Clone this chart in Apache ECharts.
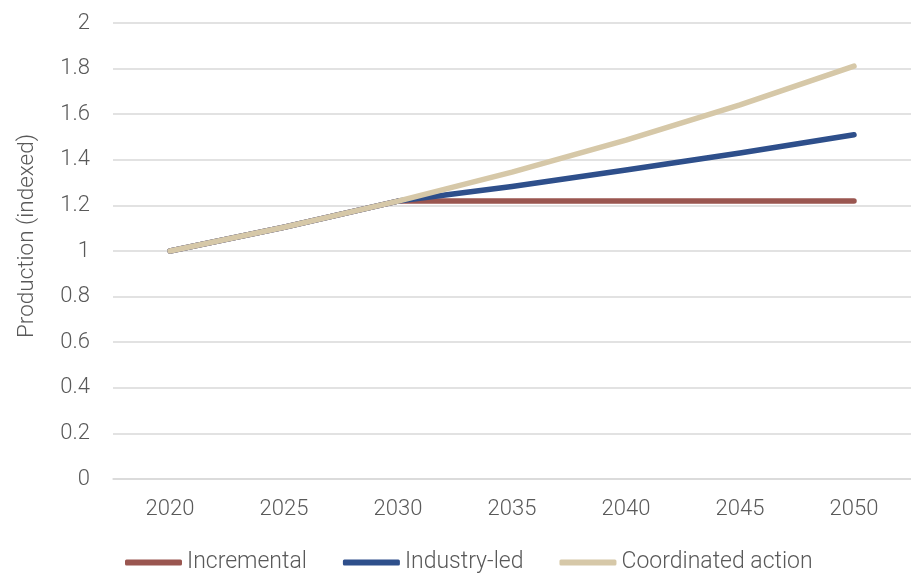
<!DOCTYPE html>
<html><head><meta charset="utf-8">
<script src="https://cdn.jsdelivr.net/npm/echarts@6/dist/echarts.min.js"></script>
<style>html,body{margin:0;padding:0;background:#fff}#c{width:911px;height:573px}</style>
</head><body><div id="c"></div>
<script>
var years = ['2020','2025','2030','2035','2040','2045','2050'];
var incremental = [1.00, 1.104, 1.219, 1.219, 1.219, 1.219, 1.219];
var industryLed = [1.00, 1.104, 1.219, 1.283, 1.355, 1.430, 1.510];
var coordinated = [1.00, 1.104, 1.219, 1.346, 1.486, 1.641, 1.811];
var yTicks = [0, 0.2, 0.4, 0.6, 0.8, 1, 1.2, 1.4, 1.6, 1.8, 2];

var font = 'Roboto, "Liberation Sans", sans-serif';
var chart = echarts.init(document.getElementById('c'));
function ser(name, data, color){
  return {name:name, type:'line', data:data, symbol:'none', smooth:false,
    lineStyle:{width:5.5, color:color, cap:'round', join:'round'}, itemStyle:{color:color}};
}
chart.setOption({
  animation:false,
  grid:{left:113, top:23, width:805, height:456},
  xAxis:{type:'category', data:years, boundaryGap:true,
    axisLine:{show:true, lineStyle:{color:'#d9d9d9', width:1.5}},
    axisTick:{show:false},
    axisLabel:{color:'#595959', fontSize:22, fontFamily:font, fontWeight:300, margin:19}},
  yAxis:{type:'value', min:yTicks[0], max:yTicks[yTicks.length-1], interval:0.2,
    name:'Production (indexed)', nameLocation:'middle', nameGap:74, nameRotate:90,
    nameTextStyle:{color:'#595959', fontSize:22.5, fontFamily:font, fontWeight:300, padding:[0,0,0,30]},
    axisLine:{show:false}, axisTick:{show:false},
    splitLine:{lineStyle:{color:'#d9d9d9', width:1.5}},
    axisLabel:{color:'#595959', fontSize:22, fontFamily:font, fontWeight:300, margin:23,
      formatter:function(v){return String(Math.round(v*10)/10);}}},
  legend:{top:551, left:125, padding:0, itemWidth:57, itemHeight:6, itemGap:36,
    icon:'roundRect',
    textStyle:{color:'#595959', fontSize:23, fontFamily:font, fontWeight:300},
    data:['Incremental','Industry-led','Coordinated action']},
  series:[
    ser('Incremental', incremental, '#9a5650'),
    ser('Industry-led', industryLed, '#2e4f8b'),
    ser('Coordinated action', coordinated, '#d6c8a8')
  ]
});
</script></body></html>
